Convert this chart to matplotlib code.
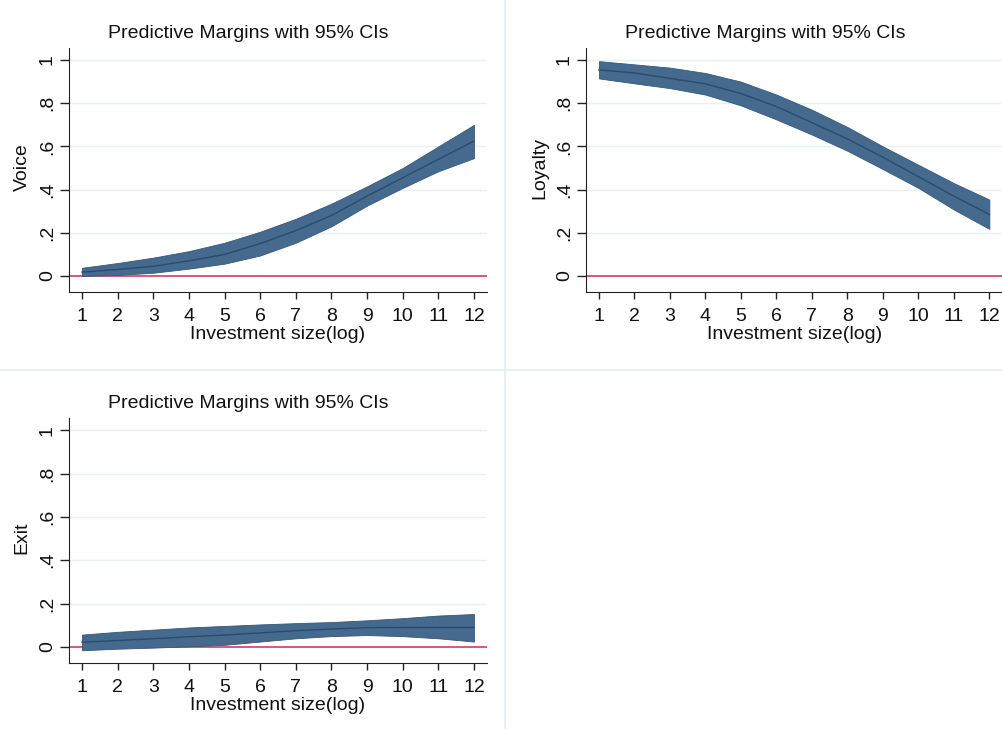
import matplotlib
matplotlib.use('Agg')
import matplotlib.pyplot as plt
from matplotlib.lines import Line2D

#----------Data----------#

x_vals = [1, 2, 3, 4, 5, 6, 7, 8, 9, 10, 11, 12]

voice_mid = [0.018, 0.03, 0.045, 0.07, 0.10, 0.15, 0.21, 0.28, 0.37, 0.455, 0.54, 0.625]
voice_lo = [0.0, 0.005, 0.015, 0.034, 0.057, 0.095, 0.154, 0.23, 0.326, 0.408, 0.485, 0.546]
voice_hi = [0.038, 0.06, 0.085, 0.115, 0.154, 0.205, 0.265, 0.335, 0.415, 0.50, 0.60, 0.70]

loyalty_mid = [0.955, 0.94, 0.915, 0.89, 0.845, 0.785, 0.71, 0.635, 0.55, 0.46, 0.37, 0.285]
loyalty_lo = [0.915, 0.892, 0.87, 0.84, 0.79, 0.725, 0.655, 0.58, 0.495, 0.408, 0.308, 0.218]
loyalty_hi = [0.995, 0.98, 0.965, 0.94, 0.90, 0.84, 0.77, 0.69, 0.60, 0.515, 0.43, 0.354]

exit_mid = [0.022, 0.03, 0.038, 0.047, 0.055, 0.065, 0.075, 0.083, 0.089, 0.09, 0.09, 0.09]
exit_lo = [-0.015, -0.008, -0.003, 0.003, 0.01, 0.025, 0.04, 0.05, 0.055, 0.05, 0.04, 0.025]
exit_hi = [0.057, 0.07, 0.08, 0.09, 0.097, 0.104, 0.11, 0.115, 0.123, 0.133, 0.145, 0.152]

y_ticks = [0, 0.2, 0.4, 0.6, 0.8, 1]
y_ticklabels = ['0', '.2', '.4', '.6', '.8', '1']

title_text = 'Predictive Margins with 95% CIs'
x_label = 'Investment size(log)'

#----------Styling----------#

plt.rcParams['font.family'] = ['Liberation Sans', 'DejaVu Sans']
band_color = '#456a8e'
band_edge = '#34587c'
line_color = '#2a4a6e'
zero_color = '#d45a7a'
grid_color = '#e9f0f2'
text_color = '#111111'
fs = 14

fig = plt.figure(figsize=(10.03, 7.29), dpi=100)


def draw_panel(rect, mid, lo, hi, ylabel, title_x, title_y, ylabel_x):
    ax = fig.add_axes(rect)
    ax.set_xlim(0.635, 12.365)
    ax.set_ylim(-0.074, 1.056)

    for t in y_ticks[1:]:
        ax.axhline(t, color=grid_color, linewidth=1.0, zorder=0)
    ax.axhline(0, color=zero_color, linewidth=1.4, zorder=1)

    ax.fill_between(x_vals, lo, hi, facecolor=band_color, edgecolor=band_edge,
                    linewidth=0.6, zorder=2)
    ax.plot(x_vals, mid, color=line_color, linewidth=1.0, zorder=3)

    ax.spines['top'].set_visible(False)
    ax.spines['right'].set_visible(False)
    ax.spines['left'].set_color('#222222')
    ax.spines['bottom'].set_color('#222222')

    ax.set_xticks(x_vals)
    ax.set_xticklabels([str(v) for v in x_vals], fontsize=fs, color=text_color)
    ax.set_yticks(y_ticks)
    ax.set_yticklabels(y_ticklabels, fontsize=fs, rotation=90, va='center',
                       color=text_color)
    ax.tick_params(axis='x', length=5, width=1, pad=6.5, color='#222222')
    ax.tick_params(axis='y', length=6.5, width=1, pad=3, color='#222222')

    ax.set_xlabel(x_label, fontsize=fs, labelpad=1, color=text_color)
    fig.text(ylabel_x, rect[1] + rect[3] * 0.51, ylabel, rotation=90, fontsize=fs,
             ha='center', va='center', color=text_color)
    fig.text(title_x, title_y, title_text, fontsize=fs, ha='center', va='center',
             color=text_color)
    return ax


draw_panel([0.0688, 0.5995, 0.4167, 0.3347], voice_mid, voice_lo, voice_hi,
           'Voice', 248 / 1003, 1 - 33 / 729, 22 / 1003)
draw_panel([0.5843, 0.5995, 0.4150, 0.3347], loyalty_mid, loyalty_lo, loyalty_hi,
           'Loyalty', 765 / 1003, 1 - 33 / 729, 540 / 1003)
draw_panel([0.0688, 0.0905, 0.4167, 0.3361], exit_mid, exit_lo, exit_hi,
           'Exit', 248 / 1003, 1 - 404 / 729, 22 / 1003)

# light separators between the combined sub-graphs
fig.add_artist(Line2D([505.5 / 1003, 505.5 / 1003], [0, 1], transform=fig.transFigure,
                      color='#e8eef1', linewidth=1.5))
fig.add_artist(Line2D([0, 1], [1 - 369.5 / 729, 1 - 369.5 / 729], transform=fig.transFigure,
                      color='#e8eef1', linewidth=1.5))

plt.savefig('out.png', dpi=100)
